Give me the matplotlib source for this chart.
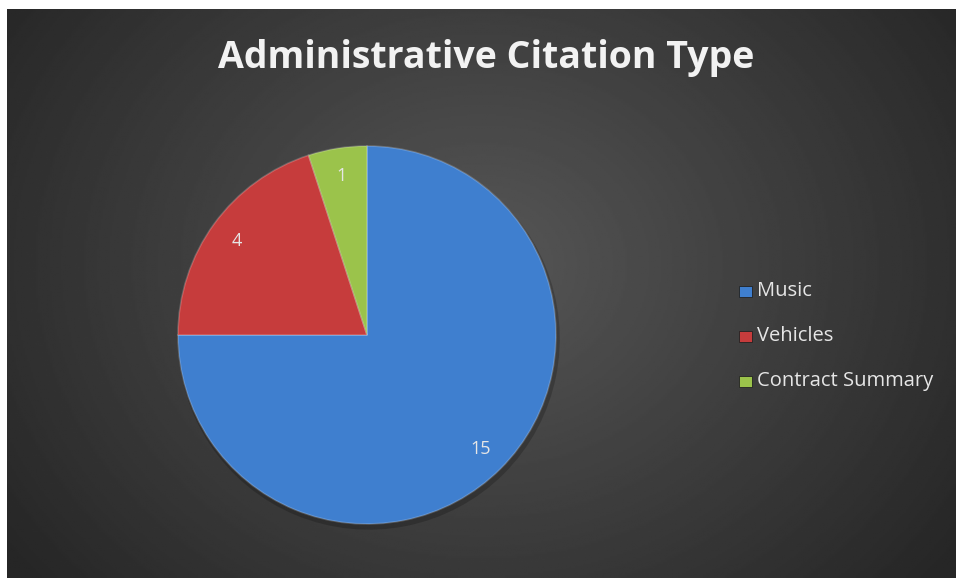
import numpy as np
import matplotlib.pyplot as plt
from matplotlib.patches import Rectangle

W, H = 956, 578

categories = ['Music', 'Vehicles', 'Contract Summary']
counts     = [15, 4, 1]
colors     = ['#3f7fcf', '#c63c3c', '#9bc34b']
title      = 'Administrative Citation Type'

fig = plt.figure(figsize=(W / 100, H / 100), dpi=100, facecolor='white')

# dark radial gradient panel
bg = fig.add_axes([7 / W, 0, 1 - 7 / W, 1 - 9 / H])
yy, xx = np.mgrid[0:1:300j, 0:1:500j]
dist = np.sqrt(((xx - 0.5) * 1.4) ** 2 + ((yy - 0.55) * 1.0) ** 2)
shade = np.clip(0.34 - 0.22 * dist, 0.15, 0.34)
bg.imshow(shade, cmap='gray', vmin=0, vmax=1, aspect='auto',
          extent=[0, 1, 0, 1], origin='lower')
bg.set_axis_off()

# pie axes, centre (367, 335), radius ~189 px
r = 189
cx, cy = 367, 335
ax = fig.add_axes([(cx - r) / W, 1 - (cy + r) / H, 2 * r / W, 2 * r / H])

# soft shadow
ax.pie(counts, startangle=90, counterclock=False,
       colors=['black'] * 3, radius=1.01, center=(0.01, -0.02),
       wedgeprops=dict(linewidth=0, alpha=0.2))

wedges, texts, autotexts = ax.pie(
    counts, startangle=90, counterclock=False, colors=colors,
    autopct=lambda p: f'{p * sum(counts) / 100:.0f}', pctdistance=0.85,
    wedgeprops=dict(linewidth=1.2, edgecolor=(1, 1, 1, 0.2)),
    textprops=dict(color='#e6e6e6', fontsize=13, family='Open Sans'))
ax.set_xlim(-1, 1)
ax.set_ylim(-1, 1)
ax.set_aspect('auto')

fig.text(486 / W, 1 - 58 / H, title, ha='center', va='center',
         color='#f2f2f2', fontsize=27, fontweight='bold', family='Open Sans')

# legend
leg_y = [291, 336, 381]
for name, col, y in zip(categories, colors, leg_y):
    fig.patches.append(Rectangle((739 / W, 1 - (y + 6) / H), 13 / W, 11 / H,
                                 transform=fig.transFigure, facecolor=col,
                                 edgecolor='#222222', linewidth=0.6))
    fig.text(757 / W, 1 - y / H, name, ha='left', va='center',
             color='#e6e6e6', fontsize=14.5, family='Open Sans')

fig.savefig('out.png', dpi=100, facecolor='white')
